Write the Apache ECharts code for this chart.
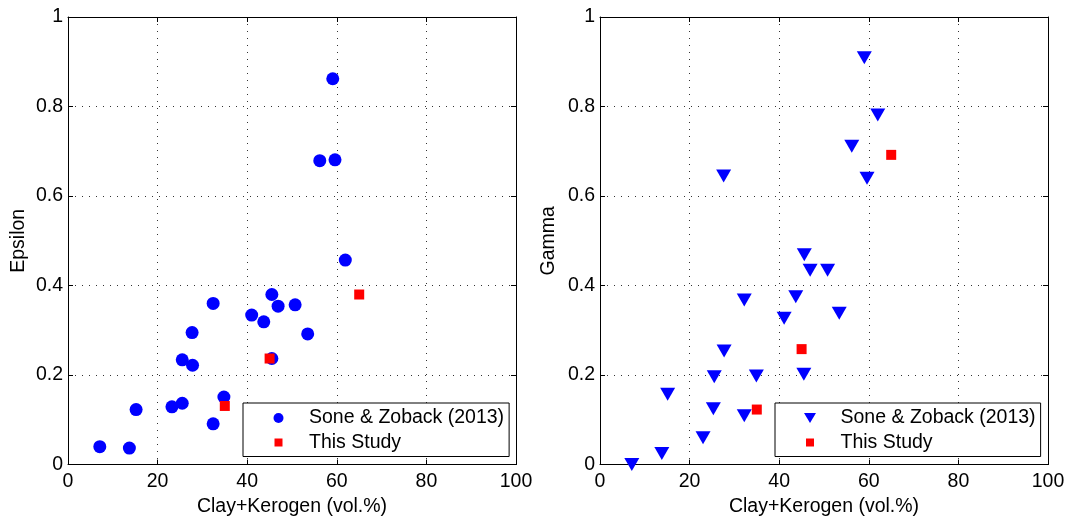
<!DOCTYPE html>
<html>
<head>
<meta charset="utf-8">
<script src="https://cdn.jsdelivr.net/npm/echarts@6/dist/echarts.min.js"></script>
<style>
  html, body { margin: 0; padding: 0; background: #fff; }
  #chart { width: 1069px; height: 516px; }
</style>
</head>
<body>
<div id="chart"></div>
<script>
// Sone & Zoback (2013) dataset: clay+kerogen content (vol.%) vs anisotropy
const sonesClayEps = [59.1, 56.2, 59.6, 61.9, 45.5, 46.9, 50.7, 32.4, 41.0, 43.7, 27.7, 53.5, 25.5, 27.8, 45.5, 34.8, 25.5, 23.2, 15.2, 32.4, 7.1, 13.7];
const sonesEpsilon = [0.862, 0.679, 0.681, 0.457, 0.380, 0.354, 0.357, 0.360, 0.334, 0.319, 0.295, 0.292, 0.234, 0.222, 0.237, 0.151, 0.137, 0.129, 0.123, 0.091, 0.040, 0.037];
const sonesClayGam = [59.0, 62.0, 56.2, 27.6, 59.6, 45.6, 46.9, 50.8, 32.2, 43.7, 41.1, 53.4, 27.7, 25.5, 34.9, 45.5, 15.1, 25.3, 32.2, 23.0, 13.8, 7.1];
const sonesGamma = [0.909, 0.781, 0.711, 0.645, 0.640, 0.469, 0.434, 0.434, 0.368, 0.375, 0.327, 0.338, 0.254, 0.196, 0.198, 0.202, 0.157, 0.125, 0.109, 0.060, 0.025, 0.0];

// This study
const studyClay = [35.0, 45.0, 65.0];
const studyEpsilon = [0.131, 0.237, 0.380];
const studyGamma = [0.123, 0.258, 0.692];

// Axis ticks
const xTicks = [0, 20, 40, 60, 80, 100];
const yTicks = [0, 0.2, 0.4, 0.6, 0.8, 1];

const seriesNames = ['Sone & Zoback (2013)', 'This Study'];
const xName = 'Clay+Kerogen (vol.%)';
const yNames = ['Epsilon', 'Gamma'];

const FONT = 'Liberation Sans, Arial, Helvetica, sans-serif';
const FS = 19.5;
const BLUE = '#0000ff';
const RED = '#ff0000';
const TRI_DOWN = 'path://M0,0H15L7.5,13Z';
const TRI_DOWN_SMALL = 'path://M0,0H12L6,10Z';
const SQUARE_SMALL = 'path://M0,0M10,10M1,1H9V9H1Z';

const pair = (xs, ys) => xs.map((x, i) => [x, ys[i]]);

const xStep = xTicks[1] - xTicks[0];
const yStep = yTicks[1] - yTicks[0];

function xAxisPair(gridIndex) {
  const base = {
    gridIndex, type: 'value',
    min: xTicks[0], max: xTicks[xTicks.length - 1], interval: xStep,
    axisLine: { show: true, onZero: false, lineStyle: { color: '#000', width: 1 } },
    axisTick: { show: true, inside: true, length: 5, lineStyle: { color: '#000' } }
  };
  return [
    Object.assign({}, base, {
      position: 'bottom',
      name: xName, nameLocation: 'middle', nameGap: 28,
      nameTextStyle: { fontFamily: FONT, fontSize: FS, color: '#000' },
      axisLabel: { color: '#000', fontFamily: FONT, fontSize: FS, margin: 7 },
      splitLine: { show: true, lineStyle: { color: '#333', width: 1, type: [1, 6] } }
    }),
    Object.assign({}, base, {
      position: 'top',
      axisLabel: { show: false },
      splitLine: { show: false }
    })
  ];
}

function yAxisPair(gridIndex, name, nameGap) {
  const base = {
    gridIndex, type: 'value',
    min: yTicks[0], max: yTicks[yTicks.length - 1], interval: yStep,
    axisLine: { show: true, onZero: false, lineStyle: { color: '#000', width: 1 } },
    axisTick: { show: true, inside: true, length: 5, lineStyle: { color: '#000' } }
  };
  return [
    Object.assign({}, base, {
      position: 'left',
      name, nameLocation: 'middle', nameGap,
      nameTextStyle: { fontFamily: FONT, fontSize: FS, color: '#000' },
      axisLabel: { color: '#000', fontFamily: FONT, fontSize: FS, margin: 5,
        formatter: v => String(Math.round(v * 10) / 10) },
      splitLine: { show: true, lineStyle: { color: '#333', width: 1, type: [1, 6] } }
    }),
    Object.assign({}, base, {
      position: 'right',
      axisLabel: { show: false },
      splitLine: { show: false }
    })
  ];
}

function legendFor(left, firstIcon, padLeft) {
  return {
    orient: 'vertical',
    left, top: 403,
    padding: [4, 5, 3, padLeft],
    itemWidth: 51, itemHeight: 10, itemGap: 2.5,
    backgroundColor: '#fff',
    borderColor: '#000', borderWidth: 1,
    selectedMode: false,
    textStyle: { fontFamily: FONT, fontSize: FS, color: '#000', lineHeight: 22 },
    data: [
      { name: seriesNames[0], icon: firstIcon },
      { name: seriesNames[1], icon: SQUARE_SMALL }
    ]
  };
}

const chart = echarts.init(document.getElementById('chart'), null, { renderer: 'canvas' });

chart.setOption({
  animation: false,
  backgroundColor: '#fff',
  grid: [
    { left: 68, top: 17, width: 448, height: 447.6, outerBoundsMode: 'none', containLabel: false },
    { left: 600, top: 17, width: 448, height: 447.6, outerBoundsMode: 'none', containLabel: false }
  ],
  xAxis: [...xAxisPair(0), ...xAxisPair(1)],
  yAxis: [...yAxisPair(0, yNames[0], 39), ...yAxisPair(1, yNames[1], 41)],
  legend: [legendFor(243, 'circle', 30.5), legendFor(775, TRI_DOWN_SMALL, 29)],
  series: [
    {
      name: seriesNames[0], type: 'scatter', xAxisIndex: 0, yAxisIndex: 0,
      symbol: 'circle', symbolSize: 13, clip: false,
      itemStyle: { color: BLUE, opacity: 1 },
      emphasis: { disabled: true },
      data: pair(sonesClayEps, sonesEpsilon)
    },
    {
      name: seriesNames[1], type: 'scatter', xAxisIndex: 0, yAxisIndex: 0,
      symbol: 'rect', symbolSize: 10, clip: false,
      itemStyle: { color: RED, opacity: 1 },
      emphasis: { disabled: true },
      data: pair(studyClay, studyEpsilon)
    },
    {
      name: seriesNames[0], type: 'scatter', xAxisIndex: 2, yAxisIndex: 2,
      symbol: TRI_DOWN, symbolSize: [15, 13], clip: false,
      itemStyle: { color: BLUE, opacity: 1 },
      emphasis: { disabled: true },
      data: pair(sonesClayGam, sonesGamma)
    },
    {
      name: seriesNames[1], type: 'scatter', xAxisIndex: 2, yAxisIndex: 2,
      symbol: 'rect', symbolSize: 10, clip: false,
      itemStyle: { color: RED, opacity: 1 },
      emphasis: { disabled: true },
      data: pair(studyClay, studyGamma)
    }
  ]
});
</script>
</body>
</html>
